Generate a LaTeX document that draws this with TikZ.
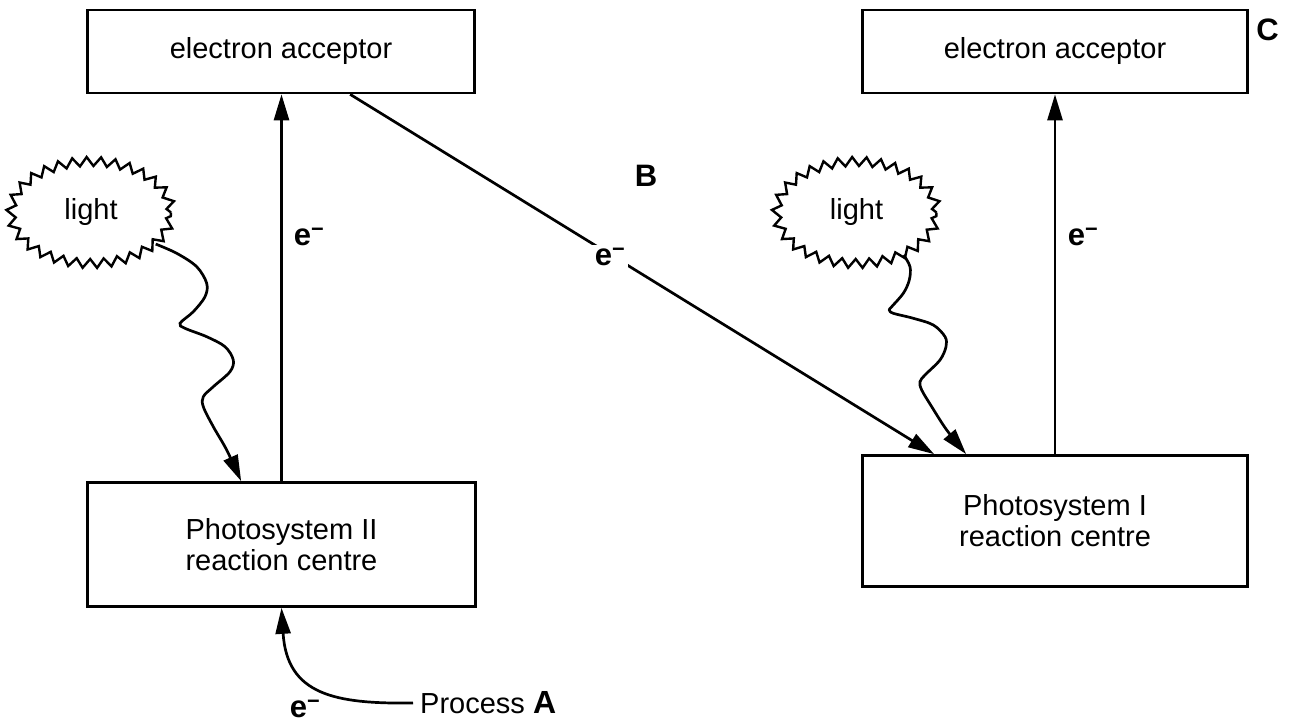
\documentclass[tikz,border=0pt]{standalone}
\usepackage{fontspec}
\setmainfont{Liberation Sans}
\usetikzlibrary{arrows.meta,shapes.geometric,decorations.pathmorphing}
\newcommand{\elec}{e\textsuperscript{−}}
\begin{document}
\begin{tikzpicture}[x=1pt,y=-1pt,
  box/.style={draw, line width=2.7pt, inner sep=0pt, align=center, font=\fontsize{29}{31}\selectfont},
  burst/.style={draw, ellipse, line width=2.4pt, minimum width=160pt, minimum height=102pt, inner sep=0pt,
    decorate, decoration={zigzag, segment length=14pt, amplitude=4.5pt}, font=\fontsize{29}{31}\selectfont},
  conn/.style={line width=2.7pt},
  tip/.style={-{Triangle[length=26pt,width=15pt]}},
  lab/.style={font=\fontsize{31}{31}\selectfont\bfseries, inner sep=0pt},
]
\useasboundingbox (0,0) rectangle (1289,722);
% boxes
\node[box, minimum width=387pt, minimum height=83pt] (ea1) at (281,51.5) {electron acceptor};
\node[box, minimum width=385pt, minimum height=83pt] (ea2) at (1055,51.5) {electron acceptor};
\node[box, minimum width=388pt, minimum height=124pt] (ps2) at (281.5,544.5) {Photosystem II\\reaction centre};
\node[box, minimum width=385pt, minimum height=131pt] (ps1) at (1055,521) {Photosystem I\\reaction centre};
% light bursts
\node[burst] (l1) at (91,212.5) {light};
\node[burst] (l2) at (856.5,212.5) {light};
% labels
\node[lab] (B) at (646,176) {B};
\node[lab] (C) at (1267.5,30) {C};
\node[lab] (e1) at (309,237) {\elec};
\node[lab] (e2) at (1083,237) {\elec};
\node[lab] (e4) at (305,709) {\elec};
\node[anchor=west, inner sep=0pt, font=\fontsize{29}{31}\selectfont] (proc) at (420,703) {Process {\fontsize{32}{32}\selectfont\bfseries A}};
% vertical electron transfers
\draw[conn,tip] (ps2.north) -- (ps2.north |- ea1.south);
\draw[conn,tip] (ps1.north) -- (ps1.north |- ea2.south);
% diagonal transfer
\draw[conn,tip] ([xshift=264pt]ea1.south west) -- node[lab, fill=white, inner sep=3pt, pos=0.445, yshift=-2pt] (e3) {\elec} ([xshift=73pt]ps1.north west);
% process A
\draw[conn,tip] ([xshift=-7pt]proc.west) .. controls (335,704) and (287,695) .. (ps2.south);
% wavy light arrows
\draw[conn,tip] plot[smooth, tension=0.55] coordinates {(l1.-26) (176.7,253.3) (196.7,266.7) (206.7,283.3) (205,296.7) (193.3,311.7) (180,323.3) (185,328.3) (206.7,336.7) (225,346.7) (233.3,360) (230,371.7) (213.3,386.7) (203.3,396.7) (203.3,406.7) (213.3,426.7) (226.7,450) ([xshift=155pt]ps2.north west)};
\draw[conn,tip] plot[smooth, tension=0.55] coordinates {(l2.-42) (910,266.7) (909.3,280) (903.3,293.3) (891.7,306.7) (889.3,310) (893.3,313.3) (913.3,318.3) (933.3,325) (945,336.7) (946,346.7) (940,360) (925,375) (920,381.7) (921.7,390) (931.7,406.7) (946.7,430) ([xshift=105pt]ps1.north west)};
\end{tikzpicture}
\end{document}
